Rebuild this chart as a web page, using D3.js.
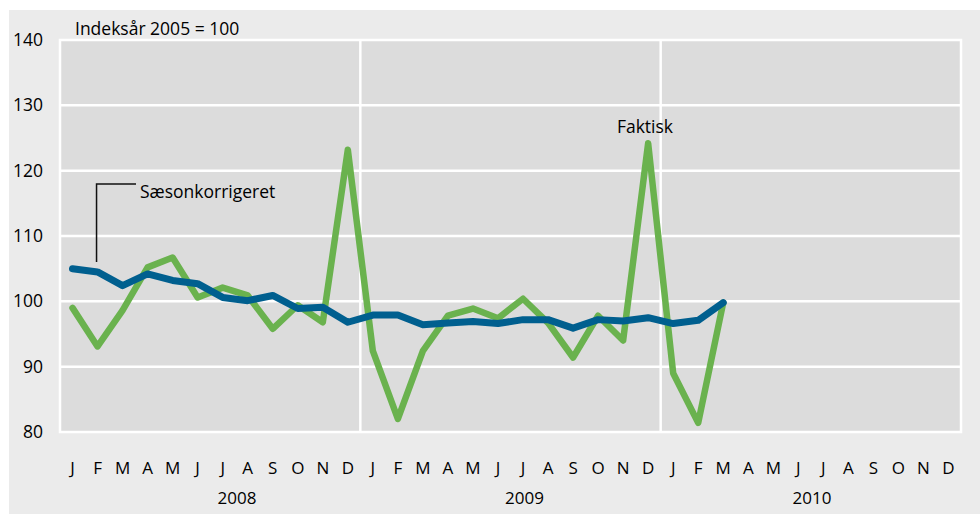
<!DOCTYPE html>
<html>
<head>
<meta charset="UTF-8">
<script src="https://d3js.org/d3.v7.min.js"></script>
<style>
  body { margin: 0; background: #ffffff; }
  svg text { font-family: "Open Sans", "DejaVu Sans", sans-serif; fill: #000; }
</style>
</head>
<body>
<div id="chart"></div>
<script>
// Data (indeks, 2005 = 100)
var years = ["2008", "2009", "2010"];
var monthLetters = ["J", "F", "M", "A", "M", "J", "J", "A", "S", "O", "N", "D"];
var yTicks = [80, 90, 100, 110, 120, 130, 140];

// Faktisk (jan 2008 - mar 2010)
var faktisk = [99.0, 93.1, 98.6, 105.2, 106.7, 100.6, 102.1, 100.9, 95.8, 99.4, 96.8, 123.2,
               92.4, 82.0, 92.4, 97.8, 98.9, 97.4, 100.4, 96.7, 91.4, 97.8, 94.0, 124.2,
               89.0, 81.4, 99.8];
// Sæsonkorrigeret
var saeson = [105.0, 104.5, 102.4, 104.2, 103.2, 102.7, 100.6, 100.1, 100.9, 98.9, 99.1, 96.8,
              97.9, 97.9, 96.4, 96.7, 96.9, 96.6, 97.2, 97.2, 95.9, 97.2, 97.0, 97.5,
              96.6, 97.1, 99.8];

var W = 980, H = 514;
var margin = { left: 60, top: 40, right: 19, bottom: 82 };
var iw = W - margin.left - margin.right;
var ih = H - margin.top - margin.bottom;
var nMonths = years.length * 12;

var svg = d3.select("#chart").append("svg")
  .attr("width", W).attr("height", H);

// panel background
svg.append("rect").attr("x", 9).attr("y", 10).attr("width", W - 9).attr("height", H - 10)
  .attr("fill", "#ebebeb");

var g = svg.append("g").attr("transform", "translate(" + margin.left + "," + margin.top + ")");

var x = d3.scaleLinear().domain([0, nMonths]).range([0, iw]);
var y = d3.scaleLinear().domain([80, 140]).range([ih, 0]);

// plot area
g.append("rect").attr("width", iw).attr("height", ih)
  .attr("fill", "#dcdcdc").attr("stroke", "#ffffff").attr("stroke-width", 2.5);

// horizontal grid
g.selectAll(".hgrid").data(yTicks.slice(1, -1)).enter().append("line")
  .attr("x1", 0).attr("x2", iw)
  .attr("y1", function(d) { return y(d); }).attr("y2", function(d) { return y(d); })
  .attr("stroke", "#ffffff").attr("stroke-width", 2.5);

// year separators
g.selectAll(".vgrid").data(d3.range(1, years.length)).enter().append("line")
  .attr("x1", function(d) { return x(d * 12); }).attr("x2", function(d) { return x(d * 12); })
  .attr("y1", 0).attr("y2", ih)
  .attr("stroke", "#ffffff").attr("stroke-width", 2.5);

// y tick labels
svg.selectAll(".ylab").data(yTicks).enter().append("text")
  .attr("x", 43).attr("y", function(d) { return margin.top + y(d); })
  .attr("dy", "0.35em").attr("text-anchor", "end")
  .style("font-size", "17.5px")
  .text(function(d) { return d; });

// month labels
var months = d3.range(nMonths);
svg.selectAll(".mlab").data(months).enter().append("text")
  .attr("x", function(d) { return margin.left + x(d + 0.5); })
  .attr("y", 474).attr("text-anchor", "middle")
  .style("font-size", "17px")
  .text(function(d) { return monthLetters[d % 12]; });

// year labels
var yearX = d3.scaleLinear().domain([0, years.length - 1]).range([237, 812]);
svg.selectAll(".yrlab").data(years).enter().append("text")
  .attr("x", function(d, i) { return yearX(i); })
  .attr("y", 504).attr("text-anchor", "middle")
  .style("font-size", "17px")
  .text(function(d) { return d; });

// lines
var line = d3.line()
  .x(function(d, i) { return x(i + 0.5); })
  .y(function(d) { return y(d); });

g.append("path").datum(faktisk).attr("d", line)
  .attr("fill", "none").attr("stroke", "#6ab24e").attr("stroke-width", 6.5)
  .attr("stroke-linejoin", "round").attr("stroke-linecap", "round");

g.append("path").datum(saeson).attr("d", line)
  .attr("fill", "none").attr("stroke", "#005f8f").attr("stroke-width", 7)
  .attr("stroke-linejoin", "round").attr("stroke-linecap", "round");

// annotations
svg.append("text").attr("x", 75).attr("y", 35)
  .style("font-size", "17.5px").text("Indeksår 2005 = 100");

var ax = margin.left + x(1.5) - 1;
svg.append("path")
  .attr("d", "M" + ax + "," + (margin.top + y(saeson[1]) - 10) + "V184H136")
  .attr("fill", "none").attr("stroke", "#111").attr("stroke-width", 1.5);
svg.append("text").attr("x", 140).attr("y", 198)
  .style("font-size", "17.5px").text("Sæsonkorrigeret");

svg.append("text").attr("x", 645).attr("y", 133).attr("text-anchor", "middle")
  .style("font-size", "17.5px").text("Faktisk");
</script>
</body>
</html>
